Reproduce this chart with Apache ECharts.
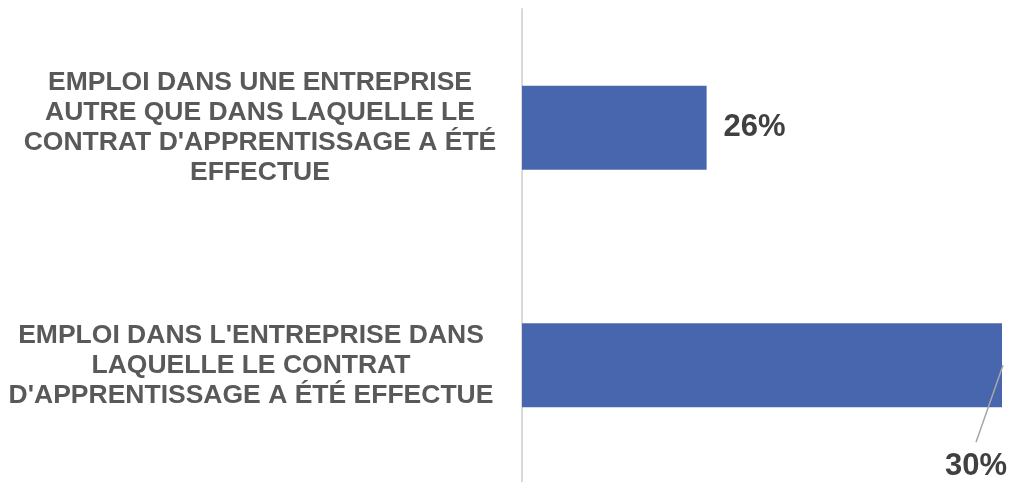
<!DOCTYPE html>
<html>
<head>
<meta charset="utf-8">
<script src="https://cdn.jsdelivr.net/npm/echarts@6/dist/echarts.min.js"></script>
<style>
  html, body { margin: 0; padding: 0; background: #fff; }
  #chart { width: 1015px; height: 482px; }
</style>
</head>
<body>
<div id="chart"></div>
<script>
// catégories (une ligne par élément du tableau)
const categories = [
  ['EMPLOI DANS UNE ENTREPRISE', 'AUTRE QUE DANS LAQUELLE LE', "CONTRAT D'APPRENTISSAGE A ÉTÉ", 'EFFECTUE'],
  ["EMPLOI DANS L'ENTREPRISE DANS", 'LAQUELLE LE CONTRAT', "D'APPRENTISSAGE A ÉTÉ EFFECTUE"]
];
const values = [26, 30];
const axisMin = 23.5;
const axisMax = 30;

const chart = echarts.init(document.getElementById('chart'));

// petit décalage horizontal propre à chaque libellé
const labelPads = [[0, 0, 0, 8], [0, 10, 0, 0]];

const option = {
  animation: false,
  grid: { left: 522, right: 13, top: 9, height: 475, outerBoundsMode: 'none' },
  xAxis: {
    type: 'value',
    min: axisMin,
    max: axisMax,
    show: false
  },
  yAxis: {
    type: 'category',
    inverse: true,
    data: categories.map((c, i) => ({
      value: c.join('\n'),
      textStyle: { align: 'center', padding: labelPads[i] }
    })),
    axisLine: { lineStyle: { color: '#d9d9d9', width: 2 } },
    axisTick: { show: false },
    axisLabel: {
      align: 'center',
      margin: 266,
      fontFamily: 'Liberation Sans, Arial, sans-serif',
      fontSize: 26.5,
      lineHeight: 30,
      fontWeight: 'bold',
      color: '#595959'
    }
  },
  series: [{
    type: 'bar',
    barCategoryGap: '64.6%',
    itemStyle: { color: '#4866ae' },
    label: {
      show: true,
      position: 'right',
      distance: 17,
      formatter: p => p.value + '%',
      fontFamily: 'Liberation Sans, Arial, sans-serif',
      fontSize: 31,
      fontWeight: 'bold',
      color: '#404040'
    },
    data: values.map((v, i) => i === 1 ? {
      value: v,
      label: { position: ['100%', '100%'], offset: [-26, 59], align: 'center', verticalAlign: 'middle' }
    } : v)
  }]
};

chart.setOption(option);

// trait de rappel de l'étiquette de la seconde barre
const end = chart.convertToPixel({ gridIndex: 0 }, [values[1], 1]);
chart.setOption({
  graphic: [{
    type: 'line',
    shape: { x1: end[0] + 1, y1: end[1], x2: end[0] - 26, y2: end[1] + 77 },
    style: { stroke: '#a6a6a6', lineWidth: 1.5 },
    z: 10
  }]
});
</script>
</body>
</html>
